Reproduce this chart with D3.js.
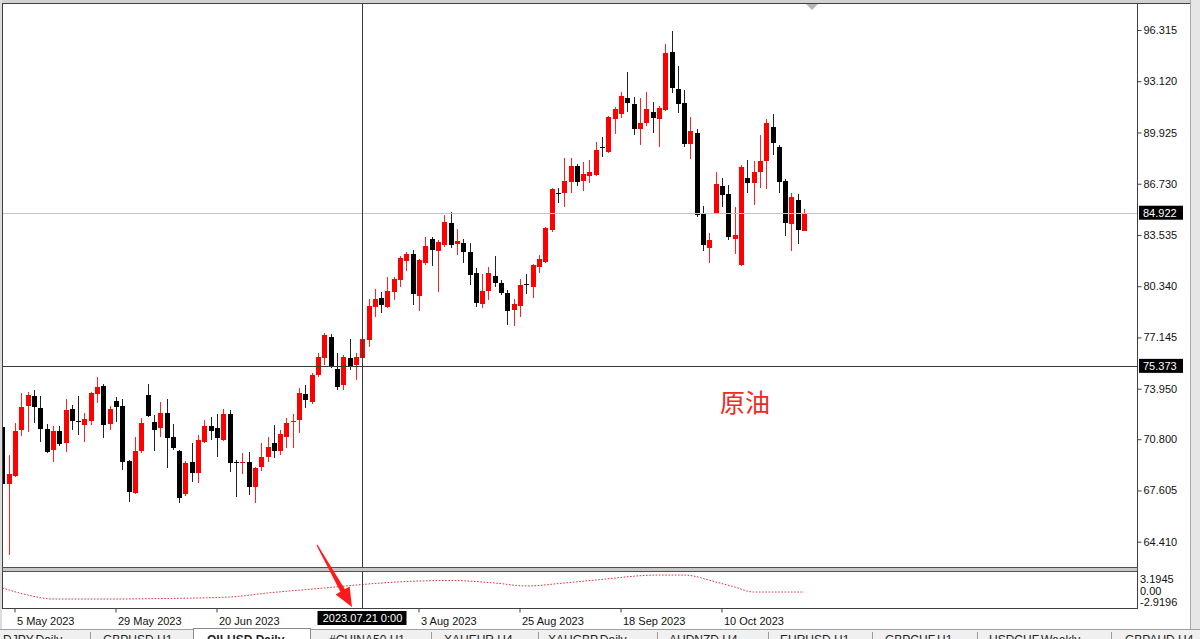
<!DOCTYPE html>
<html><head><meta charset="utf-8">
<script src="https://cdn.jsdelivr.net/npm/d3@7"></script>
<style>html,body{margin:0;padding:0;background:#fff;overflow:hidden}svg{display:block}</style>
</head><body><svg id="c" width="1200" height="639"></svg>
<script>
// ---------- data ----------
const dates = [
"2023-05-03","2023-05-04","2023-05-05","2023-05-08","2023-05-09","2023-05-10","2023-05-11","2023-05-12",
"2023-05-15","2023-05-16","2023-05-17","2023-05-18","2023-05-19","2023-05-22","2023-05-23","2023-05-24",
"2023-05-25","2023-05-26","2023-05-29","2023-05-30","2023-05-31","2023-06-01","2023-06-02","2023-06-05",
"2023-06-06","2023-06-07","2023-06-08","2023-06-09","2023-06-12","2023-06-13","2023-06-14","2023-06-15",
"2023-06-16","2023-06-19","2023-06-20","2023-06-21","2023-06-22","2023-06-23","2023-06-26","2023-06-27",
"2023-06-28","2023-06-29","2023-06-30","2023-07-03","2023-07-04","2023-07-05","2023-07-06","2023-07-07",
"2023-07-10","2023-07-11","2023-07-12","2023-07-13","2023-07-14","2023-07-17","2023-07-18","2023-07-19",
"2023-07-20","2023-07-21","2023-07-24","2023-07-25","2023-07-26","2023-07-27","2023-07-28","2023-07-31",
"2023-08-01","2023-08-02","2023-08-03","2023-08-04","2023-08-07","2023-08-08","2023-08-09","2023-08-10",
"2023-08-11","2023-08-14","2023-08-15","2023-08-16","2023-08-17","2023-08-18","2023-08-21","2023-08-22",
"2023-08-23","2023-08-24","2023-08-25","2023-08-28","2023-08-29","2023-08-30","2023-08-31","2023-09-01",
"2023-09-04","2023-09-05","2023-09-06","2023-09-07","2023-09-08","2023-09-11","2023-09-12","2023-09-13",
"2023-09-14","2023-09-15","2023-09-18","2023-09-19","2023-09-20","2023-09-21","2023-09-22","2023-09-25",
"2023-09-26","2023-09-27","2023-09-28","2023-09-29","2023-10-02","2023-10-03","2023-10-04","2023-10-05",
"2023-10-06","2023-10-09","2023-10-10","2023-10-11","2023-10-12","2023-10-13","2023-10-16","2023-10-17",
"2023-10-18","2023-10-19","2023-10-20","2023-10-23","2023-10-24","2023-10-25","2023-10-26","2023-10-27"];

const open = [
71.56,68.01,68.51,71.38,72.87,73.50,72.75,71.44, 70.13,71.31,70.57,72.69,71.91,71.69,71.94,73.62,
74.12,71.75,73.19,72.87,69.44,67.45,70.07,73.56, 71.88,71.50,72.44,70.94,70.07,67.39,69.38,68.70,
70.63,71.63,71.50,70.75,72.38,69.41,69.35,69.38, 67.82,69.07,69.69,70.57,70.07,70.94,71.85,72.00,
73.62,73.12,74.81,75.87,77.18,75.18,74.18,75.87, 75.43,75.87,76.99,79.05,79.61,79.05,79.98,80.73,
81.91,82.35,79.73,81.79,83.28,82.54,82.91,84.28, 82.97,83.04,82.47,81.16,79.23,80.04,80.98,80.54,
79.92,78.86,79.11,80.45,80.29,81.54,81.85,83.85, 86.18,86.15,86.84,87.84,86.90,87.21,87.28,88.99,
88.71,90.77,91.08,92.08,91.70,90.14,90.52,91.20, 90.77,91.33,94.94,92.64,91.76,89.21,89.89,84.91,
82.72,84.91,86.59,86.09,83.28,81.66,87.09,86.78, 87.46,88.15,90.27,89.02,86.90,84.22,85.71,83.78];

const high = [
71.70,69.82,71.81,73.68,73.75,73.87,73.50,71.75, 71.63,71.63,73.31,72.94,73.50,72.44,73.75,74.68,
74.25,72.87,73.43,73.31,69.50,70.94,72.13,74.25, 72.31,73.12,73.31,71.75,70.13,69.44,70.57,71.06,
72.00,72.19,72.38,72.69,72.63,69.51,69.94,70.00, 69.07,70.57,70.94,71.69,71.38,72.13,72.38,74.00,
74.18,74.93,76.18,77.42,77.36,76.18,76.05,77.05, 76.18,77.18,79.54,80.17,79.98,80.92,80.92,82.23,
82.47,82.60,82.04,83.41,83.41,83.22,84.78,84.97, 83.91,83.28,83.04,81.48,81.10,81.54,82.23,80.73,
80.11,79.54,80.79,81.10,81.73,82.29,84.03,86.47, 86.47,88.33,88.33,87.96,88.08,88.21,89.33,89.64,
90.95,91.52,92.45,93.70,92.14,92.08,92.45,91.83, 91.58,95.44,96.25,94.07,92.57,90.89,90.14,85.34,
83.66,87.46,87.09,86.65,85.28,87.90,88.21,88.15, 89.77,90.77,91.08,89.14,87.03,86.15,86.09,85.15];

const low = [
67.95,63.58,68.45,71.00,71.25,71.81,70.63,69.94, 69.38,70.38,70.00,71.38,71.06,70.63,71.69,73.06,
70.88,71.38,71.88,68.88,66.89,67.39,69.94,72.19, 70.07,70.94,69.00,70.13,66.83,67.26,68.13,68.07,
70.57,70.75,69.69,70.70,68.76,67.20,68.63,67.32, 66.83,68.82,69.38,69.63,69.82,70.26,70.26,71.19,
72.75,73.00,74.68,75.43,75.24,73.87,73.87,75.12, 74.50,75.43,76.55,78.42,78.67,79.00,79.48,80.29,
81.29,79.17,78.80,81.66,81.60,79.98,82.79,82.72, 82.29,81.79,80.42,79.05,78.98,79.48,80.29,79.79,
77.92,77.86,78.42,79.86,79.61,81.16,81.79,83.72, 85.53,85.28,86.15,86.59,86.28,86.78,87.21,88.40,
88.65,89.83,90.83,91.20,89.77,89.14,90.33,89.89, 89.02,91.27,92.39,91.14,89.02,88.27,84.66,82.54,
81.79,84.85,85.28,83.22,82.35,81.60,86.15,85.40, 86.47,86.40,88.52,86.15,83.47,82.54,82.97,83.78];

const close = [
68.01,68.63,71.31,72.81,73.56,72.81,71.44,70.00, 71.31,70.50,72.63,71.94,71.85,72.06,73.68,74.06,
71.69,72.69,72.81,69.38,67.51,70.07,71.81,72.25, 71.38,72.44,70.88,70.26,67.14,69.32,68.70,70.75,
71.63,71.31,70.88,72.38,69.32,69.35,69.41,67.82, 69.01,69.69,70.32,70.07,71.13,71.81,71.91,73.68,
73.25,74.81,75.93,77.30,75.37,74.06,75.93,75.37, 75.93,77.05,79.11,79.54,79.17,80.04,80.79,82.10,
82.35,79.86,81.97,82.85,82.60,83.10,84.35,82.91, 83.16,82.47,81.04,79.29,80.04,81.16,80.54,79.92,
78.80,79.23,80.42,80.39,81.66,82.04,83.97,86.40, 86.12,86.90,87.84,86.84,87.34,87.46,88.83,88.93,
90.89,91.39,92.20,91.76,90.14,90.52,91.39,90.83, 91.45,94.88,92.70,91.70,89.21,90.02,84.78,82.91,
83.22,86.71,86.03,83.41,83.53,87.77,86.78,87.46, 88.15,90.52,89.27,86.84,84.28,85.90,83.85,84.922];

const priceTicks = [96.315, 93.120, 89.925, 86.730, 83.535, 80.340, 77.145, 73.950, 70.800, 67.605, 64.410];
const timeTicks = ["2023-05-05","2023-05-29","2023-06-20","2023-08-03","2023-08-25","2023-09-18","2023-10-10"];

const oscDates  = ["2023-05-03","2023-05-09","2023-05-15","2023-05-26","2023-06-08","2023-06-22","2023-06-30","2023-07-13","2023-07-21","2023-07-26","2023-08-03","2023-08-10","2023-08-21","2023-08-28","2023-09-05","2023-09-12","2023-09-26","2023-10-02","2023-10-09","2023-10-12","2023-10-17","2023-10-27"];
const oscValues = [0.42,-0.88,-1.62,-1.62,-1.53,-1.25,-0.51,0.42,1.06,1.34,1.71,1.80,1.34,0.79,1.34,1.90,2.82,2.82,1.53,0.60,-0.33,-0.33];
const oscLabels = ["3.1945","0.00","-2.9196"];
const oscRange = [-2.9196, 3.1945];

const bidPrice = 84.922;
const crossDate = "2023-07-21";
const crossPrice = 75.373;
const crossLabel = "2023.07.21 0:00";
const noteText = "原油";
const tabLabels = ["DJPY,Daily","GBPUSD,H1","OILUSD,Daily","#CHINA50,H1","XAUEUR,H4","XAUGBP,Daily","AUDNZD,H4","EURUSD,H1","GBPCHF,H1","USDCHF,Weekly","GBPAUD,H4"];
const activeTab = "OILUSD,Daily";

// ---------- layout ----------
const svg = d3.select("#c");
const FONT = "'Liberation Sans', Arial, sans-serif";
const L = 2, R = 1137, TOP = 4, MAINB = 567.5, SUBT = 571.5, SUBB = 608.5;
const step = 6.3125, firstCenter = 2.375;

const x = d3.scaleBand().domain(dates)
  .range([firstCenter - step/2, firstCenter - step/2 + dates.length*step]).padding(0);
const cx = d => x(d) + x.bandwidth()/2;
const y = d3.scaleLinear().domain([64.410, 96.315]).range([541.7, 30]);
const yo = d3.scaleLinear().domain(oscRange).range([606, 573]);

svg.append("rect").attr("width",1200).attr("height",639).attr("fill","#fff");

const defs = svg.append("defs");
defs.append("clipPath").attr("id","mainClip").append("rect")
  .attr("x",L+0.5).attr("y",TOP).attr("width",R-L).attr("height",MAINB-TOP);
defs.append("clipPath").attr("id","subClip").append("rect")
  .attr("x",L+0.5).attr("y",SUBT).attr("width",R-L).attr("height",SUBB-SUBT);

const main = svg.append("g").attr("clip-path","url(#mainClip)");

// candles
const data = dates.map((d,i)=>({d, o:open[i], h:high[i], l:low[i], c:close[i]}));
const UP = "#ff0000", DN = "#000000";
const cg = main.append("g").attr("shape-rendering","crispEdges");
cg.selectAll("line.w").data(data).enter().append("line")
  .attr("x1", d=>Math.round(cx(d.d))+0.5).attr("x2", d=>Math.round(cx(d.d))+0.5)
  .attr("y1", d=>y(d.h)).attr("y2", d=>y(d.l))
  .attr("stroke", d=> d.c>=d.o ? "#f22" : "#222").attr("stroke-width",1);
cg.selectAll("rect.b").data(data).enter().append("rect")
  .attr("x", d=>Math.round(cx(d.d))-2).attr("width",5)
  .attr("y", d=>Math.min(y(d.o),y(d.c)))
  .attr("height", d=>Math.max(1, Math.abs(y(d.o)-y(d.c))))
  .attr("fill", d=> d.c>=d.o ? UP : DN);

// bid line (drawn over candles)
main.append("line").attr("x1",L).attr("x2",R).attr("y1",Math.round(y(bidPrice))+0.5).attr("y2",Math.round(y(bidPrice))+0.5)
  .attr("stroke","#c4c4c4").attr("stroke-width",1);

// crosshair horizontal
main.append("line").attr("x1",L).attr("x2",R).attr("y1",Math.round(y(crossPrice))+0.5).attr("y2",Math.round(y(crossPrice))+0.5)
  .attr("stroke","#3a3a3a").attr("stroke-width",1);

// note text
svg.append("text").attr("x",720).attr("y",412).text(noteText)
  .attr("font-family","'Noto Sans CJK SC', sans-serif").attr("font-size",25).attr("fill","#f0281e");

// oscillator
const oscLine = d3.line().x((d,i)=>cx(oscDates[i])).y(d=>yo(d)).curve(d3.curveMonotoneX);
svg.append("g").attr("clip-path","url(#subClip)").append("path").attr("d", oscLine(oscValues))
  .attr("fill","none").attr("stroke","#e8303a").attr("stroke-width",1).attr("stroke-dasharray","1.6,1.6");

// crosshair vertical
const cxx = Math.round(cx(crossDate))+0.5;
svg.append("line").attr("x1",cxx).attr("x2",cxx).attr("y1",TOP).attr("y2",SUBB)
  .attr("stroke","#3a3a3a").attr("stroke-width",1);

// frames
svg.append("rect").attr("x",0).attr("y",0).attr("width",1200).attr("height",3).attr("fill","#d2d2d2");
svg.append("rect").attr("x",0).attr("y",0).attr("width",2).attr("height",629).attr("fill","#dcdcdc");
svg.append("rect").attr("x",1190).attr("y",0).attr("width",10).attr("height",629).attr("fill","#e6e6e6");
const frame = svg.append("g").attr("shape-rendering","crispEdges").attr("stroke","#404040").attr("stroke-width",1);
frame.append("line").attr("x1",L).attr("x2",1190).attr("y1",3.5).attr("y2",3.5);
frame.append("line").attr("x1",L+0.5).attr("x2",L+0.5).attr("y1",3).attr("y2",SUBB);
frame.append("line").attr("x1",R+0.5).attr("x2",R+0.5).attr("y1",3).attr("y2",SUBB);
frame.append("line").attr("x1",L).attr("x2",R+1).attr("y1",SUBB).attr("y2",SUBB);
svg.append("rect").attr("x",L+0.5).attr("y",MAINB).attr("width",R-L).attr("height",SUBT-MAINB)
  .attr("fill","#c8c8c8").attr("stroke","#505050").attr("shape-rendering","crispEdges");
svg.append("line").attr("x1",1190.5).attr("x2",1190.5).attr("y1",0).attr("y2",629).attr("stroke","#a8a8a8");

// chart-shift marker
svg.append("path").attr("d","M806,4 L818,4 L812,10 Z").attr("fill","#b4b4b4");

// price axis
const ya = svg.append("g").attr("transform",`translate(${R+0.5},0)`)
  .call(d3.axisRight(y).tickValues(priceTicks).tickSize(4).tickFormat(d3.format(".3f")));
ya.select(".domain").remove();
ya.selectAll("line").attr("stroke","#404040");
ya.selectAll("text").attr("x",6).attr("font-family",FONT).attr("font-size",11).attr("fill","#111");

// price boxes
function priceBox(v){
  const yy = y(v);
  svg.append("rect").attr("x",1139).attr("y",yy-7).attr("width",44).attr("height",14).attr("fill","#000");
  svg.append("text").attr("x",1143).attr("y",yy).attr("dy","0.35em").text(d3.format(".3f")(v))
    .attr("font-family",FONT).attr("font-size",11).attr("fill","#fff");
}
priceBox(bidPrice);
priceBox(crossPrice);

// oscillator labels
const oscLabY = [579, 591, 602];
oscLabels.forEach((t,i)=>{
  svg.append("text").attr("x",1140).attr("y",oscLabY[i]).attr("dy","0.35em").text(t)
    .attr("font-family",FONT).attr("font-size",11).attr("fill","#111");
});

// time axis
const fmt = d3.timeFormat("%-d %b %Y"), parse = d3.timeParse("%Y-%m-%d");
const xa = svg.append("g").attr("transform",`translate(0,${SUBB})`)
  .call(d3.axisBottom(x).tickValues(timeTicks).tickSize(4).tickFormat(d=>fmt(parse(d))));
xa.select(".domain").remove();
xa.selectAll("line").attr("stroke","#404040");
xa.selectAll("text").attr("text-anchor","start").attr("x",2).attr("y",9).attr("dy","0.71em")
  .attr("font-family",FONT).attr("font-size",11).attr("fill","#111");

// crosshair date box
svg.append("rect").attr("x",cxx-45).attr("y",611).attr("width",89).attr("height",14).attr("fill","#000");
svg.append("text").attr("x",cxx).attr("y",618).attr("dy","0.35em").attr("text-anchor","middle").text(crossLabel)
  .attr("font-family",FONT).attr("font-size",11).attr("fill","#fff");

// red arrow annotation
(function(){
  const t=[317,545], tip=[352,607];
  const dx=tip[0]-t[0], dy=tip[1]-t[1], len=Math.hypot(dx,dy);
  const ux=dx/len, uy=dy/len, nx=-uy, ny=ux;
  const bx=t[0]+ux*(len-19), by=t[1]+uy*(len-19);
  const P=(px,py,w)=>[px+nx*w, py+ny*w];
  const pts=[P(t[0],t[1],0.6),P(bx,by,2.6),P(bx,by,8),tip,P(bx,by,-8),P(bx,by,-2.6),P(t[0],t[1],-0.6)];
  svg.append("path").attr("d","M"+pts.map(p=>p.join(",")).join("L")+"Z").attr("fill","#ff1a1a");
})();

// tab bar
svg.append("rect").attr("x",0).attr("y",629).attr("width",1200).attr("height",10).attr("fill","#f0f0f0");
svg.append("line").attr("x1",0).attr("x2",1200).attr("y1",629.5).attr("y2",629.5).attr("stroke","#a0a0a0");
const tabX = [3,103,207,329,444,548,669,780,885,989,1125];
const sepX = [90,431,538,657,768,872,977,1111];
svg.append("rect").attr("x",193.5).attr("y",628.5).attr("width",117).attr("height",12)
  .attr("fill","#fff").attr("stroke","#8a8a8a");
sepX.forEach(s=>svg.append("line").attr("x1",s+0.5).attr("x2",s+0.5).attr("y1",632).attr("y2",639).attr("stroke","#9a9a9a"));
tabLabels.forEach((t,i)=>{
  svg.append("text").attr("x",tabX[i]).attr("y",644).text(t)
    .attr("font-family",FONT).attr("font-size",12).attr("fill","#222")
    .attr("font-weight", t===activeTab ? "bold" : "normal");
});
</script>
</body></html>
